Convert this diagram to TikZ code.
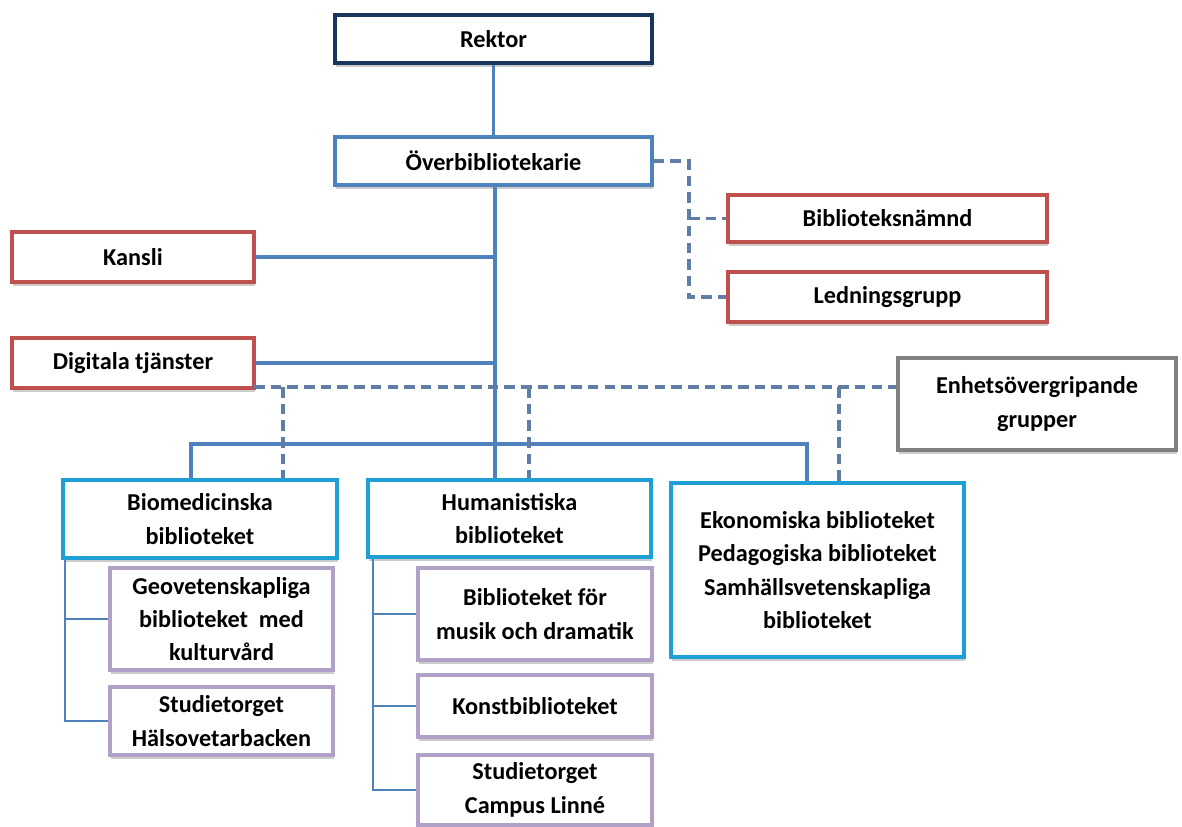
\documentclass[tikz,border=0pt]{standalone}
\usepackage{fontspec}
\setmainfont{Carlito}
\usetikzlibrary{shadows}
\definecolor{navy}{RGB}{23,54,93}
\definecolor{steel}{RGB}{79,129,189}
\definecolor{brick}{RGB}{192,80,77}
\definecolor{aqua}{RGB}{30,160,215}
\definecolor{lilac}{RGB}{177,160,199}
\definecolor{dashblue}{RGB}{95,125,165}

\begin{document}
\begin{tikzpicture}[x=0.02cm, y=-0.02cm,
    box/.style={draw, fill=white, line width=2pt, align=center, inner sep=2pt,
      font=\fontsize{13.8}{19}\selectfont\bfseries,
      drop shadow={opacity=0.4, shadow xshift=0.8pt, shadow yshift=-2pt}},
    mainline/.style={steel, line width=2pt},
    dashline/.style={dashblue, line width=2pt, dash pattern=on 6pt off 3.5pt},
    thinline/.style={steel, line width=0.7pt}]
    \useasboundingbox (0,0) rectangle (1182,827);

    % top of the tree
    \node [box, draw=navy, line width=2.5pt, minimum width=6.34cm, minimum height=0.96cm] (rektor) at (493.5,39) {Rektor};
    \node [box, draw=steel, minimum width=6.34cm, minimum height=0.96cm] (overbib) at (493.5,161) {Överbibliotekarie};
    \node [box, draw=brick, minimum width=6.38cm, minimum height=0.94cm] (namnd) at (887.5,218.5) {Biblioteksnämnd};
    \node [box, draw=brick, minimum width=6.38cm, minimum height=1.0cm] (ledning) at (887.5,297) {Ledningsgrupp};
    \node [box, draw=brick, minimum width=4.84cm, minimum height=1.0cm] (kansli) at (133,257) {Kansli};
    \node [box, draw=brick, minimum width=4.84cm, minimum height=1.0cm] (digital) at (133,363) {Digitala tjänster};
    \node [box, draw=gray, minimum width=5.56cm, minimum height=1.84cm] (enhets) at (1037,404) {Enhetsövergripande\\grupper};

    % libraries
    \node [box, draw=aqua, minimum width=5.48cm, minimum height=1.56cm] (biomed) at (200,519) {Biomedicinska\\biblioteket};
    \node [box, draw=aqua, minimum width=5.66cm, minimum height=1.54cm] (human) at (509.5,518.5) {Humanistiska\\biblioteket};
    \node [box, draw=aqua, minimum width=5.86cm, minimum height=3.48cm] (ekonom) at (817.5,570) {Ekonomiska biblioteket\\Pedagogiska biblioteket\\Samhällsvetenskapliga\\biblioteket};
    \node [box, draw=lilac, minimum width=4.46cm, minimum height=2.04cm] (geo) at (221.5,619) {Geovetenskapliga\\biblioteket~ med\\kulturvård};
    \node [box, draw=lilac, minimum width=4.46cm, minimum height=1.36cm] (studh) at (221.5,721) {Studietorget\\Hälsovetarbacken};
    \node [box, draw=lilac, minimum width=4.68cm, minimum height=1.84cm] (musik) at (535,614) {Biblioteket för\\musik och dramatik};
    \node [box, draw=lilac, minimum width=4.68cm, minimum height=1.24cm] (konst) at (535,706) {Konstbiblioteket};
    \node [box, draw=lilac, minimum width=4.68cm, minimum height=1.40cm] (studc) at (535,790) {Studietorget\\Campus Linné};

    % solid lines
    \coordinate (spine) at (495,444);
    \coordinate (barl) at (191,444);
    \coordinate (barr) at (807,444);
    \draw [mainline] (rektor) -- (overbib);
    \draw [mainline] (overbib.south -| spine) -- (human.north -| spine);
    \draw [mainline] (kansli.east) -- (kansli.east -| spine);
    \draw [mainline] (digital.east) -- (digital.east -| spine);
    \draw [mainline] (biomed.north -| barl) -- (barl) -- (barr) -- (ekonom.north -| barr);

    % dashed lines
    \coordinate (dtop) at (689,161);
    \coordinate (glow) at (254,387);
    \draw [dashline] (overbib.east) -- (dtop) |- (ledning.west);
    \draw [dashline] (namnd.west -| dtop) -- (namnd.west);
    \draw [dashline] (glow) -- (glow -| enhets.west);
    \draw [dashline] (glow -| 283,0) -- (biomed.north -| 283,0);
    \draw [dashline] (glow -| 529,0) -- (human.north -| 529,0);
    \draw [dashline] (glow -| 839,0) -- (ekonom.north -| 839,0);

    % thin lines
    \coordinate (bt) at (65,0);
    \coordinate (ht) at (373,0);
    \draw [thinline] (biomed.south -| bt) |- (studh.west);
    \draw [thinline] (geo.west -| bt) -- (geo.west);
    \draw [thinline] (human.south -| ht) |- (studc.west);
    \draw [thinline] (musik.west -| ht) -- (musik.west);
    \draw [thinline] (konst.west -| ht) -- (konst.west);
\end{tikzpicture}
\end{document}
